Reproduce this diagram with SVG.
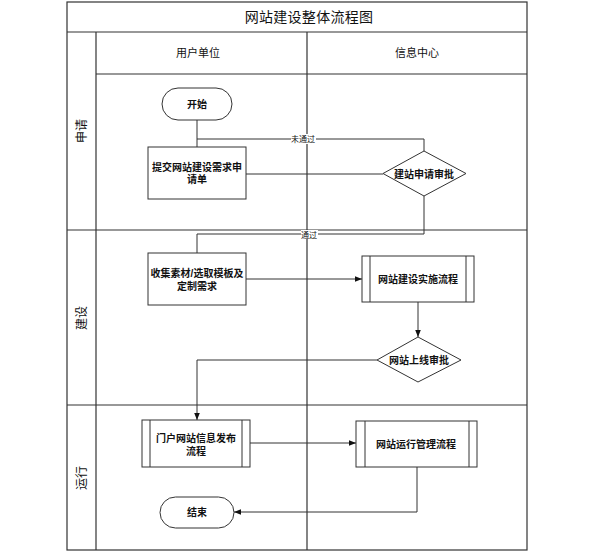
<svg xmlns="http://www.w3.org/2000/svg" width="608" height="553" viewBox="0 0 608 553">
<defs>
<marker id="arr" viewBox="0 0 10 10" refX="10" refY="5" markerWidth="7" markerHeight="7" orient="auto" markerUnits="userSpaceOnUse">
<path d="M0,1 L10,5 L0,9 Z" fill="#111"/>
</marker>
<style>
.frame{fill:none;stroke:#333;stroke-width:1.2}
.node{fill:#fff;stroke:#333;stroke-width:1}
.conn{fill:none;stroke:#333;stroke-width:1}
text{font-family:"Liberation Sans","Noto Sans CJK SC",sans-serif;fill:#111}
.t{font-size:10px;font-weight:bold;text-anchor:middle;dominant-baseline:central}
.h{font-size:11px;text-anchor:middle;dominant-baseline:central}
.ln{font-size:12px;text-anchor:middle;dominant-baseline:central}
.lbl{font-size:8px;text-anchor:middle;dominant-baseline:central}
</style>
</defs>
<rect width="608" height="553" fill="#fff"/>
<g id="pool">
<rect class="frame" x="67" y="2" width="460" height="548"/>
<line class="frame" x1="67" y1="32" x2="527" y2="32"/>
<line class="frame" x1="96" y1="32" x2="96" y2="550"/>
<line class="frame" x1="96" y1="74" x2="527" y2="74"/>
<line class="frame" x1="307" y1="32" x2="307" y2="550"/>
<line class="frame" x1="67" y1="230" x2="527" y2="230"/>
<line class="frame" x1="67" y1="405" x2="527" y2="405"/>
<text x="309" y="17" font-size="14" text-anchor="middle" dominant-baseline="central" letter-spacing="0.3">网站建设整体流程图</text>
<text class="h" x="198" y="53">用户单位</text>
<text class="h" x="417" y="53">信息中心</text>
<text class="ln" transform="translate(82,131) rotate(-90)">申请</text>
<text class="ln" transform="translate(82,318) rotate(-90)">建设</text>
<text class="ln" transform="translate(82,478) rotate(-90)">运行</text>
</g>
<g id="connectors">
<line class="conn" x1="197" y1="120" x2="197" y2="147"/>
<polyline class="conn" points="424,151 424,139 197,139"/>
<line class="conn" x1="246" y1="174" x2="383" y2="174"/>
<polyline class="conn" points="424,196 424,234 197,234 197,253"/>
<line class="conn" x1="246" y1="279" x2="362" y2="279" marker-end="url(#arr)"/>
<line class="conn" x1="418" y1="302" x2="418" y2="337" marker-end="url(#arr)"/>
<polyline class="conn" points="377,360 197,360 197,420" marker-end="url(#arr)"/>
<line class="conn" x1="250" y1="443" x2="356" y2="443" marker-end="url(#arr)"/>
<polyline class="conn" points="417,467 417,512 234,512" marker-end="url(#arr)"/>
<rect x="291" y="134" width="25" height="10" fill="#fff"/>
<text class="lbl" x="303" y="139">未通过</text>
<rect x="301" y="230" width="17" height="9" fill="#fff"/>
<text class="lbl" x="309" y="235">通过</text>
</g>
<g id="start">
<rect class="node" x="162" y="88" width="70" height="32" rx="16"/>
<text class="t" x="197" y="104">开始</text>
</g>
<g id="submit">
<rect class="node" x="148" y="147" width="98" height="52"/>
<text class="t" x="197" y="167">提交网站建设需求申</text>
<text class="t" x="197" y="179">请单</text>
</g>
<g id="approve">
<polygon class="node" points="424,151 466,173.5 424,196 383,173.5"/>
<text class="t" x="424" y="174">建站申请审批</text>
</g>
<g id="collect">
<rect class="node" x="148" y="253" width="98" height="52"/>
<text class="t" x="197" y="273">收集素材/选取模板及</text>
<text class="t" x="197" y="286">定制需求</text>
</g>
<g id="implement">
<rect class="node" x="362" y="256" width="112" height="46"/>
<line class="node" x1="370" y1="256" x2="370" y2="302"/>
<line class="node" x1="466" y1="256" x2="466" y2="302"/>
<text class="t" x="418" y="279">网站建设实施流程</text>
</g>
<g id="golive">
<polygon class="node" points="418,337 461,360 418,382 377,360"/>
<text class="t" x="419" y="360">网站上线审批</text>
</g>
<g id="publish">
<rect class="node" x="142" y="420" width="108" height="47"/>
<line class="node" x1="150" y1="420" x2="150" y2="467"/>
<line class="node" x1="242" y1="420" x2="242" y2="467"/>
<text class="t" x="196" y="438">门户网站信息发布</text>
<text class="t" x="196" y="451">流程</text>
</g>
<g id="operate">
<rect class="node" x="356" y="421" width="121" height="46"/>
<line class="node" x1="365" y1="421" x2="365" y2="467"/>
<line class="node" x1="469" y1="421" x2="469" y2="467"/>
<text class="t" x="416" y="444">网站运行管理流程</text>
</g>
<g id="end">
<rect class="node" x="160" y="497" width="74" height="31" rx="15.5"/>
<text class="t" x="197" y="512">结束</text>
</g>
</svg>
